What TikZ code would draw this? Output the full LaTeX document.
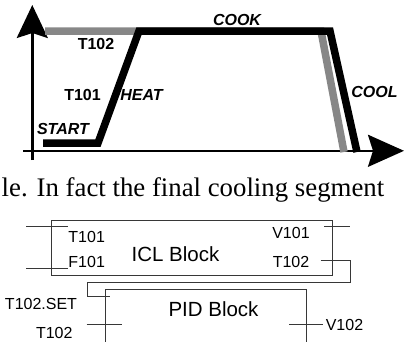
\documentclass[tikz,border=0pt]{standalone}
\usepackage{fontspec}
\setmainfont{Liberation Serif}
\newfontfamily\labfont{Liberation Sans}
\usetikzlibrary{arrows.meta}
\definecolor{gline}{RGB}{135,135,135}
\definecolor{bline}{RGB}{55,55,55}
\begin{document}
\begin{tikzpicture}[x=1pt,y=-1pt,
  glab/.style={font=\labfont\bfseries\fontsize{16}{16}\selectfont, inner sep=0pt},
  gilab/.style={font=\labfont\bfseries\itshape\fontsize{16}{16}\selectfont, inner sep=0pt},
  slab/.style={font=\labfont\fontsize{16}{16}\selectfont, inner sep=0pt},
  blab/.style={font=\labfont\fontsize{20.5}{20.5}\selectfont, inner sep=0pt},
  axisline/.style={line width=2.5pt},
  prof/.style={line width=7.5pt, miter limit=10},
  wire/.style={draw=bline, line width=1pt},
  blk/.style={draw=bline, line width=1pt, inner sep=0pt}
]
\useasboundingbox (0,0) rectangle (409,341);
\begin{scope}
\clip (0,0) rectangle (409,341);
% axes
\coordinate (ybot) at (32.3,160);
\coordinate (ytop) at (32.3,5);
\coordinate (xleft) at (23,150.8);
\coordinate (xright) at (404,150.8);
\draw[axisline, -{Stealth[length=33pt,width=31pt,inset=5pt]}] (ybot) -- (ytop);
\draw[axisline, -{Stealth[length=36pt,width=32pt,inset=5pt]}] (xleft) -- (xright);
% profiles
\draw[prof, gline] (45,31) -- (321,31) -- (344,152);
\draw[prof, black] (43,143) -- (98,143) -- (139,31) -- (330,31) -- (357,152);
% graph labels
\node[gilab] (cook) at (237,20) {COOK};
\node[glab] (t102a) at (96,44) {T102};
\node[glab] (t101a) at (82.5,94.5) {T101};
\node[gilab] (heat) at (141.5,94.5) {HEAT};
\node[gilab] (start) at (63,129) {START};
\node[gilab] (cool) at (374.5,91.5) {COOL};
% text line
\node[anchor=base west, inner sep=0pt, font=\fontsize{26.8}{26.8}\selectfont] (txt) at (1.5,196) {le. In fact the final cooling segment};
% ICL block
\node[blk, minimum width=280.6pt, minimum height=55.7pt] (icl) at (192,247.85) {};
\node[blab] (icllab) at (175.5,253.7) {ICL Block};
\node[slab] (it101) at (86.7,236.7) {T101};
\node[slab] (if101) at (86.7,262) {F101};
\node[slab] (iv101) at (291,232.5) {V101};
\node[slab] (it102) at (291,262) {T102};
\coordinate (a1) at (26,226.7); \coordinate (a2) at (68,226.7);
\coordinate (b1) at (26,268.5); \coordinate (b2) at (68,268.5);
\coordinate (c1) at (324,226.7); \coordinate (c2) at (350,226.7);
\draw[wire] (a1) -- (a2);
\draw[wire] (b1) -- (b2);
\draw[wire] (c1) -- (c2);
% PID block
\node[blk, minimum width=201.7pt, minimum height=55.7pt] (pid) at (205.85,317.15) {};
\node[blab] (pidlab) at (213.5,309) {PID Block};
\node[slab] (pset) at (41,303.5) {T102.SET};
\node[slab] (pt102) at (54.3,332.5) {T102};
\node[slab] (pv102) at (344.5,325) {V102};
\coordinate (d1) at (86.7,324); \coordinate (d2) at (121.7,324);
\coordinate (e1) at (289.3,324); \coordinate (e2) at (323.3,324);
\draw[wire] (d1) -- (d2);
\draw[wire] (e1) -- (e2);
% feedback loop
\coordinate (f1) at (320.7,260.7);
\coordinate (f2) at (110,296);
\draw[wire] (f1) -- (350,260.7) -- (350,282.8) -- (87,282.8) -- (87,296) -- (f2);
\end{scope}
\end{tikzpicture}
\end{document}
